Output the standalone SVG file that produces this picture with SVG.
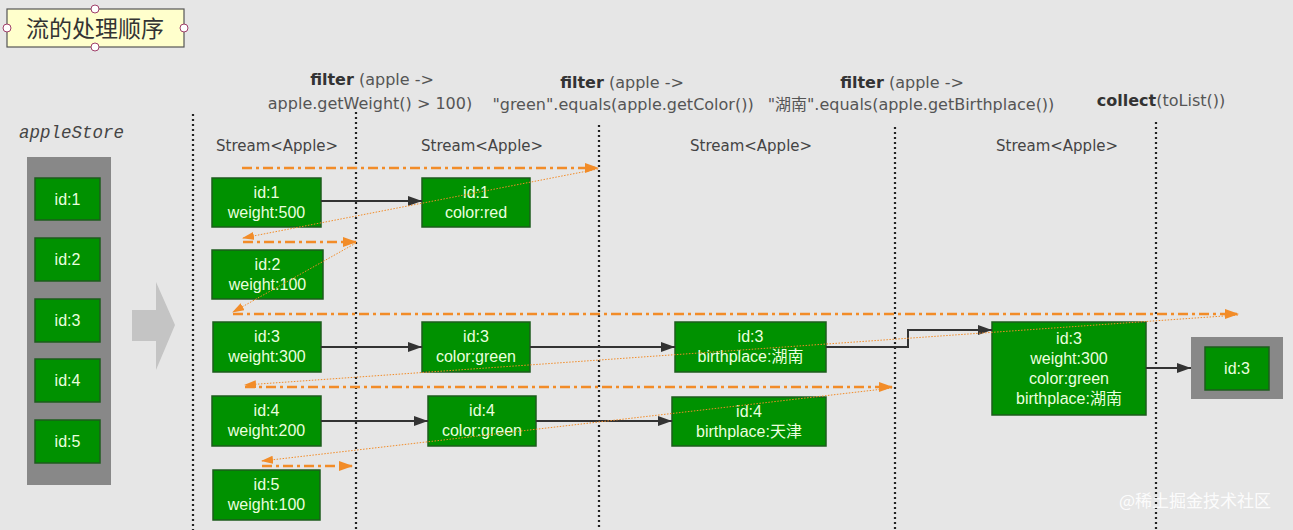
<svg xmlns="http://www.w3.org/2000/svg" width="1293" height="530" viewBox="0 0 1293 530">
<style>
.bg{fill:#e6e6e6}
.box{fill:#009100;stroke:#1d5c1d;stroke-width:1.5}
.bt{fill:#eaffdf;font-family:"Liberation Sans","Noto Sans CJK SC",sans-serif;font-size:16px;text-anchor:middle}
.hdr{fill:#555;font-family:"DejaVu Sans","Noto Sans CJK SC",sans-serif;font-size:16px;text-anchor:middle}
.hdr .b{font-weight:bold;fill:#333}
.st{fill:#444;font-family:"DejaVu Sans",sans-serif;font-size:15px}
.vline{stroke:#222;stroke-width:2.2;stroke-dasharray:2 3;fill:none}
.blk{stroke:#333;stroke-width:2;fill:none;marker-end:url(#ab)}
.dd{stroke:#f28c28;stroke-width:2.5;stroke-dasharray:10 4 3 4;fill:none;marker-end:url(#ao)}
.dt{stroke:#f28c28;stroke-width:1;stroke-dasharray:1.5 1.5;fill:none;marker-end:url(#as)}
</style>
<defs>
<marker id="ab" viewBox="0 0 14 10" refX="14" refY="5" markerWidth="14" markerHeight="10" markerUnits="userSpaceOnUse" orient="auto"><path d="M0,0 L14,5 L0,10 Z" fill="#333"/></marker>
<marker id="ao" viewBox="0 0 14 10" refX="13" refY="5" markerWidth="14" markerHeight="10" markerUnits="userSpaceOnUse" orient="auto"><path d="M0,0 L14,5 L0,10 Z" fill="#f28c28"/></marker>
<marker id="as" viewBox="0 0 12 8" refX="11" refY="4" markerWidth="12" markerHeight="8" markerUnits="userSpaceOnUse" orient="auto"><path d="M0,0 L12,4 L0,8 Z" fill="#f28c28"/></marker>
</defs>
<rect class="bg" x="0" y="0" width="1293" height="530"/>

<g id="title">
<rect x="7" y="9" width="177" height="38" fill="#ffffcc" stroke="#555" stroke-width="1.2"/>
<text x="95" y="37" fill="#333" font-family="'Noto Sans CJK SC',sans-serif" font-size="23" text-anchor="middle">流的处理顺序</text>
<g fill="#fff" stroke="#a0406a" stroke-width="1">
<circle cx="95" cy="9" r="4"/><circle cx="95" cy="47" r="4"/><circle cx="7" cy="28" r="4"/><circle cx="184" cy="28" r="4"/>
</g>
</g>

<g id="headers">
<text class="hdr" x="372" y="85"><tspan class="b">filter</tspan> (apple -&gt;</text>
<text class="hdr" x="370" y="109">apple.getWeight() &gt; 100)</text>
<text class="hdr" x="622" y="88"><tspan class="b">filter</tspan> (apple -&gt;</text>
<text class="hdr" x="623" y="110">"green".equals(apple.getColor())</text>
<text class="hdr" x="902" y="88"><tspan class="b">filter</tspan> (apple -&gt;</text>
<text class="hdr" x="911" y="110">"湖南".equals(apple.getBirthplace())</text>
<text class="hdr" x="1161" y="106"><tspan class="b">collect</tspan>(toList())</text>
</g>

<g id="dividers">
<line class="vline" x1="193" y1="114" x2="193" y2="530"/>
<line class="vline" x1="356" y1="112" x2="356" y2="530"/>
<line class="vline" x1="599" y1="125" x2="599" y2="530"/>
<line class="vline" x1="895" y1="127" x2="895" y2="530"/>
<line class="vline" x1="1156" y1="122" x2="1156" y2="530"/>
</g>

<g id="stream-labels">
<text class="st" x="216" y="151">Stream&lt;Apple&gt;</text>
<text class="st" x="421" y="151">Stream&lt;Apple&gt;</text>
<text class="st" x="690" y="151">Stream&lt;Apple&gt;</text>
<text class="st" x="996" y="151">Stream&lt;Apple&gt;</text>
</g>

<g id="appleStore">
<text x="19" y="138" fill="#444" font-family="'Liberation Mono',monospace" font-style="italic" font-size="17.5">appleStore</text>
<rect x="27" y="157" width="84" height="328" fill="#888"/>
<rect class="box" x="35" y="178" width="65" height="42"/><text class="bt" x="67.5" y="205">id:1</text>
<rect class="box" x="35" y="238" width="65" height="43"/><text class="bt" x="67.5" y="265">id:2</text>
<rect class="box" x="35" y="299" width="65" height="43"/><text class="bt" x="67.5" y="326">id:3</text>
<rect class="box" x="35" y="359" width="65" height="43"/><text class="bt" x="67.5" y="386">id:4</text>
<rect class="box" x="35" y="420" width="65" height="43"/><text class="bt" x="67.5" y="447">id:5</text>
</g>

<g id="bigArrow">
<path d="M132,310 L156,310 L156,282 L175,325 L156,370 L156,341 L132,341 Z" fill="#c4c4c4"/>
</g>

<g id="s1-1"><rect class="box" x="212" y="178" width="109" height="49"/><text class="bt" x="266.5" y="198">id:1</text><text class="bt" x="266.5" y="218">weight:500</text></g>
<g id="s1-2"><rect class="box" x="212" y="250" width="111" height="49"/><text class="bt" x="267.5" y="270">id:2</text><text class="bt" x="267.5" y="290">weight:100</text></g>
<g id="s1-3"><rect class="box" x="213" y="322" width="108" height="50"/><text class="bt" x="267" y="342">id:3</text><text class="bt" x="267" y="362">weight:300</text></g>
<g id="s1-4"><rect class="box" x="212" y="396" width="109" height="50"/><text class="bt" x="266.5" y="416">id:4</text><text class="bt" x="266.5" y="436">weight:200</text></g>
<g id="s1-5"><rect class="box" x="213" y="470" width="107" height="50"/><text class="bt" x="266.5" y="490">id:5</text><text class="bt" x="266.5" y="510">weight:100</text></g>

<g id="s2-1"><rect class="box" x="422" y="178" width="108" height="49"/><text class="bt" x="476" y="198">id:1</text><text class="bt" x="476" y="218">color:red</text></g>
<g id="s2-3"><rect class="box" x="422" y="322" width="108" height="50"/><text class="bt" x="476" y="342">id:3</text><text class="bt" x="476" y="362">color:green</text></g>
<g id="s2-4"><rect class="box" x="428" y="396" width="108" height="50"/><text class="bt" x="482" y="416">id:4</text><text class="bt" x="482" y="436">color:green</text></g>

<g id="s3-3"><rect class="box" x="675" y="322" width="151" height="50"/><text class="bt" x="750.5" y="342">id:3</text><text class="bt" x="750.5" y="362">birthplace:湖南</text></g>
<g id="s3-4"><rect class="box" x="672" y="397" width="154" height="49"/><text class="bt" x="749" y="417">id:4</text><text class="bt" x="749" y="437">birthplace:天津</text></g>

<g id="s4-3"><rect class="box" x="992" y="322" width="154" height="93"/><text class="bt" x="1069" y="344">id:3</text><text class="bt" x="1069" y="364">weight:300</text><text class="bt" x="1069" y="384">color:green</text><text class="bt" x="1069" y="404">birthplace:湖南</text></g>

<g id="result">
<rect x="1191" y="337" width="92" height="62" fill="#888"/>
<rect class="box" x="1205" y="347" width="64" height="43"/><text class="bt" x="1237" y="374">id:3</text>
</g>

<g id="connectors">
<line class="blk" x1="321" y1="201" x2="422" y2="201"/>
<line class="blk" x1="321" y1="347" x2="422" y2="347"/>
<line class="blk" x1="530" y1="347" x2="675" y2="347"/>
<line class="blk" x1="321" y1="421" x2="428" y2="421"/>
<line class="blk" x1="536" y1="421" x2="672" y2="421"/>
<polyline class="blk" points="826,347 908,347 908,330 992,330"/>
<line class="blk" x1="1146" y1="368" x2="1191" y2="368"/>

<line class="dd" x1="242" y1="168" x2="598" y2="168"/>
<line class="dt" x1="598" y1="169" x2="243" y2="238"/>
<line class="dd" x1="243" y1="242" x2="356" y2="242"/>
<line class="dt" x1="356" y1="243" x2="233" y2="312"/>
<line class="dd" x1="233" y1="314" x2="1238" y2="314"/>
<line class="dt" x1="1238" y1="315" x2="245" y2="385"/>
<line class="dd" x1="245" y1="387" x2="892" y2="387"/>
<line class="dt" x1="892" y1="388" x2="262" y2="461"/>
<line class="dd" x1="262" y1="466" x2="352" y2="466"/>
</g>

<text x="1195" y="507" fill="#ffffff" fill-opacity="0.9" font-family="'Noto Sans CJK SC',sans-serif" font-size="17" text-anchor="middle">@稀土掘金技术社区</text>
</svg>
